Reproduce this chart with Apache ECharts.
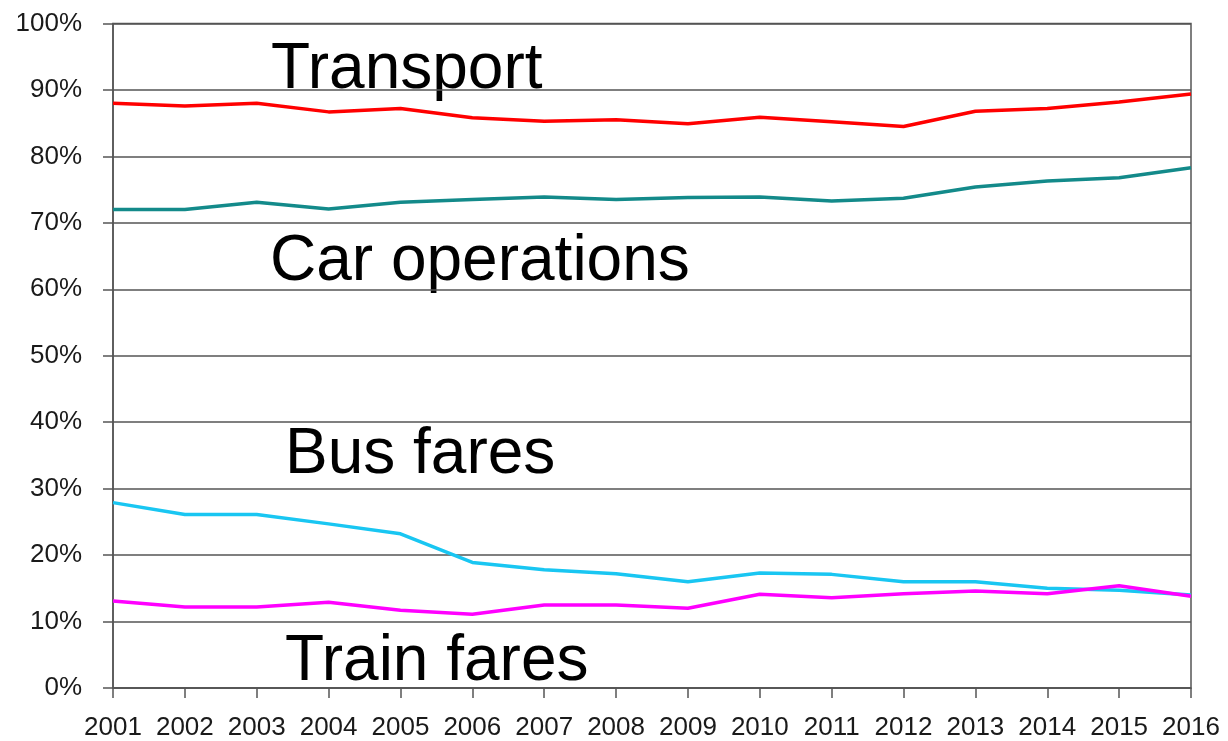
<!DOCTYPE html>
<html>
<head>
<meta charset="utf-8">
<script src="https://cdn.jsdelivr.net/npm/echarts@6/dist/echarts.min.js"></script>
<style>
  html, body { margin: 0; padding: 0; background: #fff; }
  #chart { width: 1228px; height: 741px; }
</style>
</head>
<body>
<div id="chart"></div>
<script>
const years = ['2001', '2002', '2003', '2004', '2005', '2006', '2007', '2008',
  '2009', '2010', '2011', '2012', '2013', '2014', '2015', '2016']

// shares in percent
const transport = [88.0, 87.6, 88.0, 86.7, 87.2, 85.8, 85.3, 85.5, 84.9, 85.9, 85.2, 84.5, 86.8, 87.2, 88.2, 89.4]
const carOperations = [72.0, 72.0, 73.1, 72.1, 73.1, 73.5, 73.9, 73.5, 73.8, 73.9, 73.3, 73.7, 75.4, 76.3, 76.8, 78.3]
const busFares = [27.9, 26.1, 26.1, 24.7, 23.2, 18.9, 17.8, 17.2, 16.0, 17.3, 17.1, 16.0, 16.0, 15.0, 14.7, 14.0]
const trainFares = [13.1, 12.2, 12.2, 12.9, 11.7, 11.1, 12.5, 12.5, 12.0, 14.1, 13.6, 14.2, 14.6, 14.2, 15.4, 13.8]

const seriesNames = ['Transport', 'Car operations', 'Bus fares', 'Train fares']
const seriesColors = ['#ff0000', '#138a8a', '#19c6f2', '#ff00ff']

const labelFont = '"Liberation Sans", Arial, sans-serif'

const chart = echarts.init(document.getElementById('chart'))

const lineSeries = (name, data, color) => ({
  name,
  type: 'line',
  data,
  symbol: 'none',
  silent: true,
  lineStyle: { width: 3.5, color },
  itemStyle: { color }
})

const bigLabel = (text, x, y) => ({
  type: 'text',
  left: x,
  top: y,
  style: {
    text,
    font: '64px ' + labelFont,
    fill: '#000'
  }
})

chart.setOption({
  animation: false,
  backgroundColor: '#fff',
  grid: {
    left: 113,
    right: 37,
    top: 23.5,
    bottom: 53,
    show: true,
    borderColor: '#555',
    borderWidth: 1.5
  },
  xAxis: {
    type: 'category',
    data: years,
    boundaryGap: false,
    axisLine: { lineStyle: { color: '#555', width: 1.5 } },
    axisTick: { show: true, interval: 0, length: 10, alignWithLabel: true, lineStyle: { color: '#555', width: 1.5 } },
    axisLabel: { interval: 0, color: '#1a1a1a', fontSize: 26, fontFamily: labelFont, margin: 27 },
    splitLine: { show: false }
  },
  yAxis: {
    type: 'value',
    min: 0,
    max: 100,
    interval: 10,
    axisLine: { show: true, lineStyle: { color: '#555', width: 1.5 } },
    axisTick: { show: true, length: 10, lineStyle: { color: '#555', width: 1.5 } },
    axisLabel: { color: '#1a1a1a', fontSize: 26, fontFamily: labelFont, margin: 31, formatter: '{value}%' },
    splitLine: { show: true, lineStyle: { color: '#555', width: 1.5 } }
  },
  series: [
    lineSeries(seriesNames[0], transport, seriesColors[0]),
    lineSeries(seriesNames[1], carOperations, seriesColors[1]),
    lineSeries(seriesNames[2], busFares, seriesColors[2]),
    lineSeries(seriesNames[3], trainFares, seriesColors[3])
  ],
  graphic: [
    bigLabel(seriesNames[0], 271, 38.5),
    bigLabel(seriesNames[1], 270, 230.5),
    bigLabel(seriesNames[2], 285, 423.5),
    bigLabel(seriesNames[3], 285, 630.5)
  ]
})
</script>
</body>
</html>
